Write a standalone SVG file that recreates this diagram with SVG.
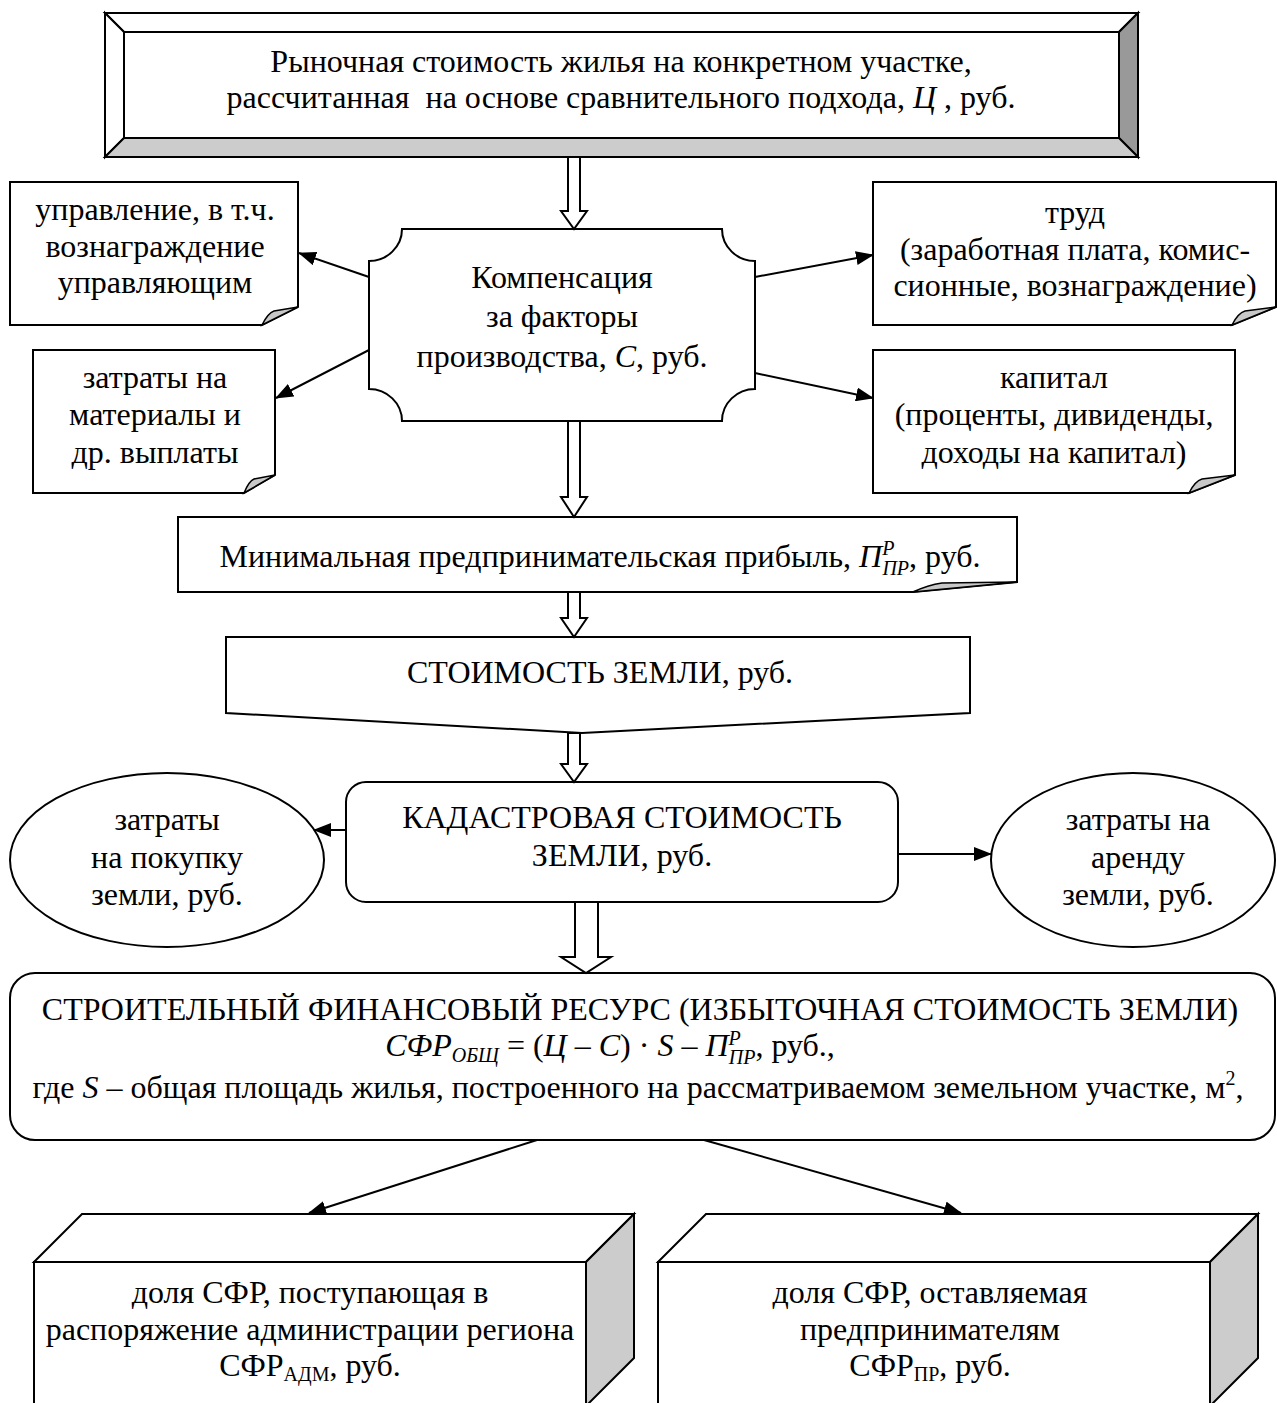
<svg xmlns="http://www.w3.org/2000/svg" width="1277" height="1403" viewBox="0 0 1277 1403" font-family="Liberation Serif, Times New Roman, DejaVu Serif, serif">
<style>
text{font-size:32px;fill:#000;text-anchor:middle}
.i{font-style:italic}
.s{font-size:20px}
.sh{fill:#fff;stroke:#000;stroke-width:2}
.fold{fill:#c8c8c8;stroke:#000;stroke-width:1.5}
.ln{stroke:#000;stroke-width:2;fill:none}
.blk{fill:#fff;stroke:#000;stroke-width:2;stroke-linejoin:miter}
</style>
<defs>
<marker id="ah" markerUnits="userSpaceOnUse" markerWidth="18" markerHeight="14" refX="17" refY="7" orient="auto">
<path d="M0,0 L18,7 L0,14 Z" fill="#000"/>
</marker>
</defs>
<rect width="1277" height="1403" fill="#fff"/>

<g id="node-market">
<rect x="105" y="13" width="1033" height="144" fill="#fff" stroke="#000" stroke-width="2"/>
<polygon points="105,13 1138,13 1119,32 124,32" fill="#fff" stroke="#000" stroke-width="2"/>
<polygon points="105,13 124,32 124,138 105,157" fill="#fff" stroke="#000" stroke-width="2"/>
<polygon points="1138,13 1138,157 1119,138 1119,32" fill="#999" stroke="#000" stroke-width="2"/>
<polygon points="105,157 124,138 1119,138 1138,157" fill="#ccc" stroke="#000" stroke-width="2"/>
<rect x="124" y="32" width="995" height="106" fill="#fff" stroke="#000" stroke-width="2"/>
<text x="621" y="72">Рыночная стоимость жилья на конкретном участке,</text>
<text x="621" y="108" style="white-space:pre">рассчитанная  на основе сравнительного подхода, <tspan class="i">Ц</tspan> , руб.</text>
</g>

<g id="node-compensation">
<path class="sh" d="M402,229 H722 A33,32 0 0 0 755,261 V389 A33,32 0 0 0 722,421 H402 A33,32 0 0 0 369,389 V261 A33,32 0 0 0 402,229 Z"/>
<text x="562" y="288">Компенсация</text>
<text x="562" y="327">за факторы</text>
<text x="562" y="367">производства, <tspan class="i">C</tspan>, руб.</text>
</g>

<g id="node-management">
<path class="sh" d="M10,182 H298 V307 L262,325 H10 Z"/>
<path class="fold" d="M262,325 Q268,313 274,311 L298,307 Z"/>
<text x="155" y="220">управление, в т.ч.</text>
<text x="155" y="257">вознаграждение</text>
<text x="155" y="293">управляющим</text>
</g>

<g id="node-materials">
<path class="sh" d="M33,350 H275 V475 L244,493 H33 Z"/>
<path class="fold" d="M244,493 Q249,481 254,479 L275,475 Z"/>
<text x="155" y="388">затраты на</text>
<text x="155" y="425">материалы и</text>
<text x="155" y="463">др. выплаты</text>
</g>

<g id="node-labor">
<path class="sh" d="M873,182 H1276 V307 L1232,325 H873 Z"/>
<path class="fold" d="M1232,325 Q1238,313 1245,311 L1276,307 Z"/>
<text x="1075" y="223">труд</text>
<text x="1075" y="260">(заработная плата, комис-</text>
<text x="1075" y="296">сионные, вознаграждение)</text>
</g>

<g id="node-capital">
<path class="sh" d="M873,350 H1235 V475 L1189,493 H873 Z"/>
<path class="fold" d="M1189,493 Q1195,481 1202,479 L1235,475 Z"/>
<text x="1054" y="388">капитал</text>
<text x="1054" y="425">(проценты, дивиденды,</text>
<text x="1054" y="463">доходы на капитал)</text>
</g>

<g id="node-profit">
<path class="sh" d="M178,517 H1017 V582 L913,592 H178 Z"/>
<path class="fold" d="M913,592 Q928,585 942,583 L1017,582 Z"/>
<text x="600" y="567">Минимальная предпринимательская прибыль, <tspan class="i">П</tspan><tspan class="i s" dy="-12">P</tspan><tspan class="i s" dx="-12" dy="20">ПР</tspan><tspan dy="-8">, руб.</tspan></text>
</g>

<g id="node-land">
<path class="sh" d="M226,637 H970 V713 L582,733 L226,713 Z"/>
<text x="600" y="683">СТОИМОСТЬ ЗЕМЛИ, руб.</text>
</g>

<g id="node-cadastral">
<rect class="sh" x="346" y="782" width="552" height="120" rx="20" ry="20"/>
<text x="622" y="828">КАДАСТРОВАЯ СТОИМОСТЬ</text>
<text x="622" y="866">ЗЕМЛИ, руб.</text>
</g>

<g id="node-purchase">
<ellipse class="sh" cx="167" cy="860" rx="157" ry="87"/>
<text x="167" y="830">затраты</text>
<text x="167" y="868">на покупку</text>
<text x="167" y="905">земли, руб.</text>
</g>

<g id="node-rent">
<ellipse class="sh" cx="1133" cy="860" rx="142" ry="87"/>
<text x="1138" y="830">затраты на</text>
<text x="1138" y="868">аренду</text>
<text x="1138" y="905">земли, руб.</text>
</g>

<g id="node-sfr">
<rect class="sh" x="10" y="973" width="1265" height="167" rx="25" ry="25"/>
<text x="640" y="1020">СТРОИТЕЛЬНЫЙ ФИНАНСОВЫЙ РЕСУРС (ИЗБЫТОЧНАЯ СТОИМОСТЬ ЗЕМЛИ)</text>
<text x="610" y="1056"><tspan class="i">СФР</tspan><tspan class="i s" dy="6">ОБЩ</tspan><tspan dy="-6"> = (</tspan><tspan class="i">Ц</tspan> – <tspan class="i">С</tspan>) · <tspan class="i">S</tspan> – <tspan class="i">П</tspan><tspan class="i s" dy="-11">P</tspan><tspan class="i s" dx="-12" dy="19">ПР</tspan><tspan dy="-8">, руб.,</tspan></text>
<text x="638" y="1098">где <tspan class="i">S</tspan> – общая площадь жилья, построенного на рассматриваемом земельном участке, м<tspan class="s" dy="-13">2</tspan><tspan dy="13">,</tspan></text>
</g>

<g id="node-adm">
<polygon points="34,1262 82,1214 634,1214 586,1262" fill="#fff" stroke="#000" stroke-width="2"/>
<polygon points="586,1262 634,1214 634,1358 586,1406" fill="#ccc" stroke="#000" stroke-width="2"/>
<rect x="34" y="1262" width="552" height="150" fill="#fff" stroke="#000" stroke-width="2"/>
<text x="310" y="1303">доля СФР, поступающая в</text>
<text x="310" y="1340">распоряжение администрации региона</text>
<text x="310" y="1376">СФР<tspan class="s" dy="5">АДМ</tspan><tspan dy="-5">, руб.</tspan></text>
</g>

<g id="node-entrepreneurs">
<polygon points="658,1262 706,1214 1258,1214 1210,1262" fill="#fff" stroke="#000" stroke-width="2"/>
<polygon points="1210,1262 1258,1214 1258,1358 1210,1406" fill="#ccc" stroke="#000" stroke-width="2"/>
<rect x="658" y="1262" width="552" height="150" fill="#fff" stroke="#000" stroke-width="2"/>
<text x="930" y="1303">доля СФР, оставляемая</text>
<text x="930" y="1340">предпринимателям</text>
<text x="930" y="1376">СФР<tspan class="s" dy="5">ПР</tspan><tspan dy="-5">, руб.</tspan></text>
</g>

<g id="connectors">
<polygon class="blk" points="568,157 580,157 580,211 587,211 574,229 561,211 568,211"/>
<polygon class="blk" points="568,421 580,421 580,497 587,497 574,517 561,497 568,497"/>
<polygon class="blk" points="568,592 580,592 580,618 587,618 574,637 561,618 568,618"/>
<polygon class="blk" points="568,733 580,733 580,764 587,764 574,782 561,764 568,764"/>
<polygon class="blk" points="575,902 598,902 598,957 611,957 586,973 561,957 575,957"/>
<line class="ln" x1="369" y1="277" x2="299" y2="253" marker-end="url(#ah)"/>
<line class="ln" x1="369" y1="350" x2="276" y2="398" marker-end="url(#ah)"/>
<line class="ln" x1="755" y1="277" x2="873" y2="255" marker-end="url(#ah)"/>
<line class="ln" x1="755" y1="373" x2="873" y2="398" marker-end="url(#ah)"/>
<line class="ln" x1="346" y1="830" x2="314" y2="830" marker-end="url(#ah)"/>
<line class="ln" x1="898" y1="854" x2="991" y2="854" marker-end="url(#ah)"/>
<line class="ln" x1="537" y1="1140" x2="309" y2="1213" marker-end="url(#ah)"/>
<line class="ln" x1="704" y1="1140" x2="961" y2="1213" marker-end="url(#ah)"/>
</g>
</svg>
